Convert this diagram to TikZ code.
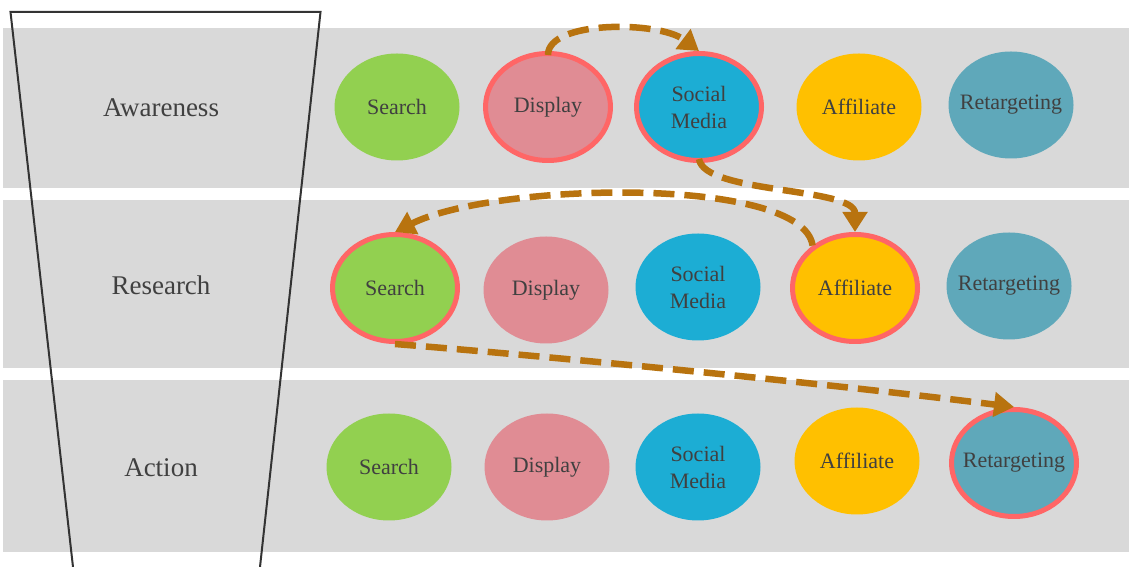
\documentclass[tikz,border=0pt]{standalone}
\usepackage{fontspec}
\setmainfont{Liberation Serif}
\usepackage{tikz}
\usetikzlibrary{shapes.geometric, arrows.meta}
\definecolor{bandgray}{HTML}{D9D9D9}
\definecolor{txtgray}{HTML}{404040}
\definecolor{funnelgray}{HTML}{333333}
\definecolor{searchgreen}{HTML}{92D050}
\definecolor{displaypink}{HTML}{E08C94}
\definecolor{socialblue}{HTML}{1CADD4}
\definecolor{affamber}{HTML}{FFC000}
\definecolor{retteal}{HTML}{5FA8BA}
\definecolor{hotred}{HTML}{FF6666}
\definecolor{pathbrown}{HTML}{B8730F}
\tikzstyle{band}     = [fill=bandgray, draw=none]
\tikzstyle{funnel}   = [draw=funnelgray, line width=2pt, line join=miter]
\tikzstyle{stage}    = [text=txtgray, font=\fontsize{27}{32}\selectfont]
\tikzstyle{chan}     = [ellipse, minimum width=125pt, minimum height=107pt, inner xsep=-20pt,
                        inner ysep=0pt, text=txtgray, align=center, font=\fontsize{22}{27}\selectfont]
\tikzstyle{search}   = [chan, fill=searchgreen]
\tikzstyle{display}  = [chan, fill=displaypink]
\tikzstyle{social}   = [chan, fill=socialblue]
\tikzstyle{affil}    = [chan, fill=affamber]
\tikzstyle{retarget} = [chan, fill=retteal]
\tikzstyle{hot}      = [draw=hotred, line width=5pt]
\tikzstyle{jump}     = [-{Triangle[length=20pt,width=24pt]}, line width=6.5pt, draw=pathbrown,
                        dash pattern=on 21pt off 10pt]

\begin{document}
\begin{tikzpicture}[x=1pt, y=1pt]
  \useasboundingbox (0,0) rectangle (1129,567);

  \fill [band] (3,379) rectangle (1129,539);
  \fill [band] (3,199) rectangle (1129,367);
  \fill [band] (3,15)  rectangle (1129,187);

  \draw [funnel] (73,0) -- (10.5,555) -- (320.5,555) -- (260,0);

  \node (aware)  [stage] at (161,459) {Awareness};
  \node (resrch) [stage] at (161,282) {Research};
  \node (action) [stage] at (161,99)  {Action};

  \node (se1) [search]        at (397,460) {Search};
  \node (d1)  [display, hot]  at (548,460) {Display};
  \node (s1)  [social, hot]   at (699,460) {Social\\Media};
  \node (a1)  [affil]         at (859,460) {Affiliate};
  \node (r1)  [retarget]      at (1011,462) {Retargeting};

  \node (se2) [search, hot]   at (395,279) {Search};
  \node (d2)  [display]       at (546,277) {Display};
  \node (s2)  [social]        at (698,280) {Social\\Media};
  \node (a2)  [affil, hot]    at (855,279) {Affiliate};
  \node (r2)  [retarget]      at (1009,281) {Retargeting};

  \node (se3) [search]        at (389,100) {Search};
  \node (d3)  [display]       at (547,100) {Display};
  \node (s3)  [social]        at (698,100) {Social\\Media};
  \node (a3)  [affil]         at (857,106) {Affiliate};
  \node (r3)  [retarget, hot] at (1014,104) {Retargeting};

  \draw [jump] ([yshift=-4pt]d1.north) .. controls +(0,35) and +(-40,30) .. (s1.north);
  \draw [jump] ([yshift=4pt]s1.south) .. controls +(5,-35) and +(0,45) .. (a2.north);
  \draw [jump] (a2.135) .. controls +(-10,70) and +(100,50) .. (se2.north);
  \draw [jump] (se2.south) .. controls +(150,-12) and +(-200,25) .. (r3.north);
\end{tikzpicture}
\end{document}
